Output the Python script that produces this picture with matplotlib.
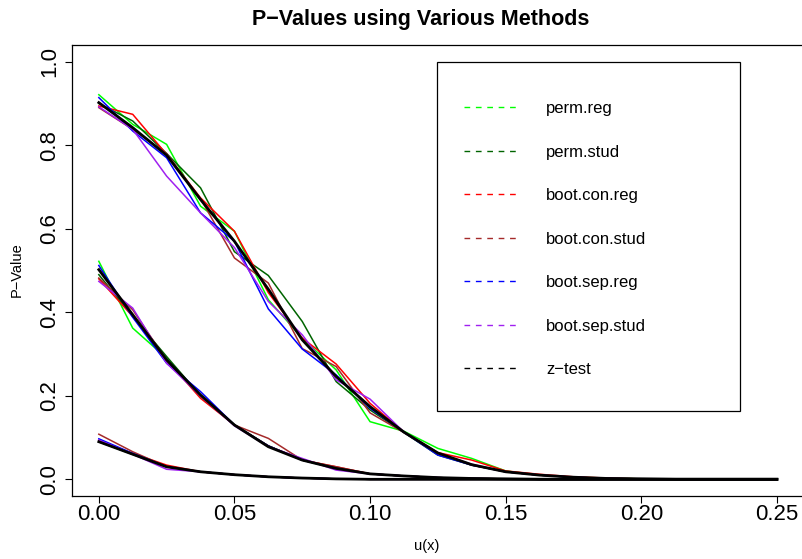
import matplotlib
matplotlib.use("Agg")
import matplotlib.pyplot as plt
from matplotlib.lines import Line2D
from matplotlib.patches import Rectangle

plt.rcParams['font.family'] = ['Liberation Sans', 'DejaVu Sans']

# u(x) grid
ux = [0.0, 0.0125, 0.025, 0.0375, 0.05, 0.0625, 0.075, 0.0875, 0.1, 0.1125,
      0.125, 0.1375, 0.15, 0.1625, 0.175, 0.1875, 0.2, 0.2125, 0.225, 0.2375, 0.25]

methods = ['perm.reg', 'perm.stud', 'boot.con.reg', 'boot.con.stud',
           'boot.sep.reg', 'boot.sep.stud', 'z-test']
colors = ['#00FF00', '#006400', '#FF0000', '#A52A2A', '#0000FF', '#A020F0', '#000000']

# top family of curves (one row per method)
p_high = [
    [.921, .850, .802, .654, .594, .430, .338, .262, .138, .115, .074, .050, .020, .010, .005, .003, .001, 0, 0, 0, 0],
    [.900, .858, .780, .698, .545, .488, .378, .234, .166, .112, .058, .034, .018, .010, .005, .002, .001, 0, 0, 0, 0],
    [.894, .874, .778, .674, .594, .447, .338, .276, .182, .113, .064, .046, .020, .012, .006, .003, .001, 0, 0, 0, 0],
    [.890, .838, .780, .672, .530, .470, .313, .270, .159, .112, .062, .034, .018, .010, .005, .002, .001, 0, 0, 0, 0],
    [.914, .834, .770, .638, .570, .408, .312, .250, .170, .113, .058, .034, .018, .010, .005, .002, .001, 0, 0, 0, 0],
    [.892, .838, .726, .638, .555, .426, .346, .238, .192, .113, .062, .036, .018, .010, .005, .002, .001, 0, 0, 0, 0],
    [.902, .842, .776, .670, .570, .455, .334, .246, .174, .113, .063, .035, .018, .010, .005, .002, .001, 0, 0, 0, 0],
]

# middle family
p_mid = [
    [.522, .362, .290, .200, .130, .080, .046, .027, .013, .008, .004, .002, .001, 0, 0, 0, 0, 0, 0, 0, 0],
    [.490, .390, .294, .200, .130, .080, .046, .026, .013, .008, .004, .002, .001, 0, 0, 0, 0, 0, 0, 0, 0],
    [.480, .390, .286, .194, .130, .080, .046, .030, .013, .008, .004, .002, .001, 0, 0, 0, 0, 0, 0, 0, 0],
    [.482, .406, .284, .198, .130, .098, .046, .030, .013, .008, .004, .002, .001, 0, 0, 0, 0, 0, 0, 0, 0],
    [.512, .388, .278, .210, .130, .080, .046, .026, .013, .008, .004, .002, .001, 0, 0, 0, 0, 0, 0, 0, 0],
    [.474, .410, .278, .200, .128, .078, .050, .022, .013, .008, .004, .002, .001, 0, 0, 0, 0, 0, 0, 0, 0],
    [.502, .394, .286, .202, .130, .078, .046, .026, .013, .008, .004, .002, .001, 0, 0, 0, 0, 0, 0, 0, 0],
]

# bottom family
p_low = [
    [.090, .060, .030, .018, .011, .006, .003, .001, 0, 0, 0, 0, 0, 0, 0, 0, 0, 0, 0, 0, 0],
    [.090, .060, .030, .018, .011, .006, .003, .001, 0, 0, 0, 0, 0, 0, 0, 0, 0, 0, 0, 0, 0],
    [.093, .062, .034, .018, .011, .006, .003, .001, 0, 0, 0, 0, 0, 0, 0, 0, 0, 0, 0, 0, 0],
    [.108, .066, .030, .018, .011, .006, .003, .001, 0, 0, 0, 0, 0, 0, 0, 0, 0, 0, 0, 0, 0],
    [.097, .062, .030, .018, .011, .006, .003, .001, 0, 0, 0, 0, 0, 0, 0, 0, 0, 0, 0, 0, 0],
    [.094, .060, .024, .018, .011, .006, .003, .001, 0, 0, 0, 0, 0, 0, 0, 0, 0, 0, 0, 0, 0],
    [.090, .060, .030, .018, .011, .006, .003, .001, 0, 0, 0, 0, 0, 0, 0, 0, 0, 0, 0, 0, 0],
]

fig = plt.figure(figsize=(8.03, 5.59), dpi=100)
ax = fig.add_axes([71.7 / 803, 1 - 496 / 559, (804 - 71.7) / 803, (496 - 45) / 559])

for i, col in enumerate(colors):
    lw = 2.0 if methods[i] == 'z-test' else 1.1
    for fam in (p_high, p_mid, p_low):
        ax.plot(ux, fam[i], color=col, lw=lw, zorder=3 if i == 6 else 2)

ax.set_xlim(-0.01, 0.26)
ax.set_ylim(-0.04, 1.04)
ax.set_xticks([0.0, 0.05, 0.10, 0.15, 0.20, 0.25])
ax.set_xticklabels(['0.00', '0.05', '0.10', '0.15', '0.20', '0.25'])
ax.set_yticks([0.0, 0.2, 0.4, 0.6, 0.8, 1.0])
ax.set_yticklabels(['0.0', '0.2', '0.4', '0.6', '0.8', '1.0'], rotation=90, va='center')
ax.tick_params(axis='both', direction='out', length=5, width=0.8, labelsize=16)
ax.tick_params(axis='x', pad=0.5)
ax.tick_params(axis='y', pad=3.5)
for s in ax.spines.values():
    s.set_linewidth(0.9)

fig.text(421 / 803, 1 - 20 / 559, 'P\u2212Values using Various Methods', ha='center', va='center',
         fontsize=15.5, fontweight='bold')
fig.text(427 / 803, 1 - 546 / 559, 'u(x)', ha='center', va='center', fontsize=10.5)
fig.text(17 / 803, 1 - 270 / 559, 'P\u2212Value', ha='center', va='center', rotation=90, fontsize=10.5)

# legend with dashed handles
handles = [Line2D([], [], color=c, lw=1.0, dashes=(4.1, 4.1)) for c in colors]
labels = [m.replace('-', '\u2212') for m in methods]
leg = ax.legend(handles, labels, loc='upper left', bbox_to_anchor=(0.1202, 1.0),
                bbox_transform=ax.transData, frameon=False, fontsize=12,
                handlelength=3.1, handletextpad=1.8, labelspacing=1.71, borderpad=2.37,
                borderaxespad=0)
ax.add_patch(Rectangle((0.1246, 0.164), 0.2364 - 0.1246, 1.0 - 0.164, fill=False,
                       edgecolor='black', lw=0.9, zorder=5))

fig.savefig('out.png', dpi=100)
